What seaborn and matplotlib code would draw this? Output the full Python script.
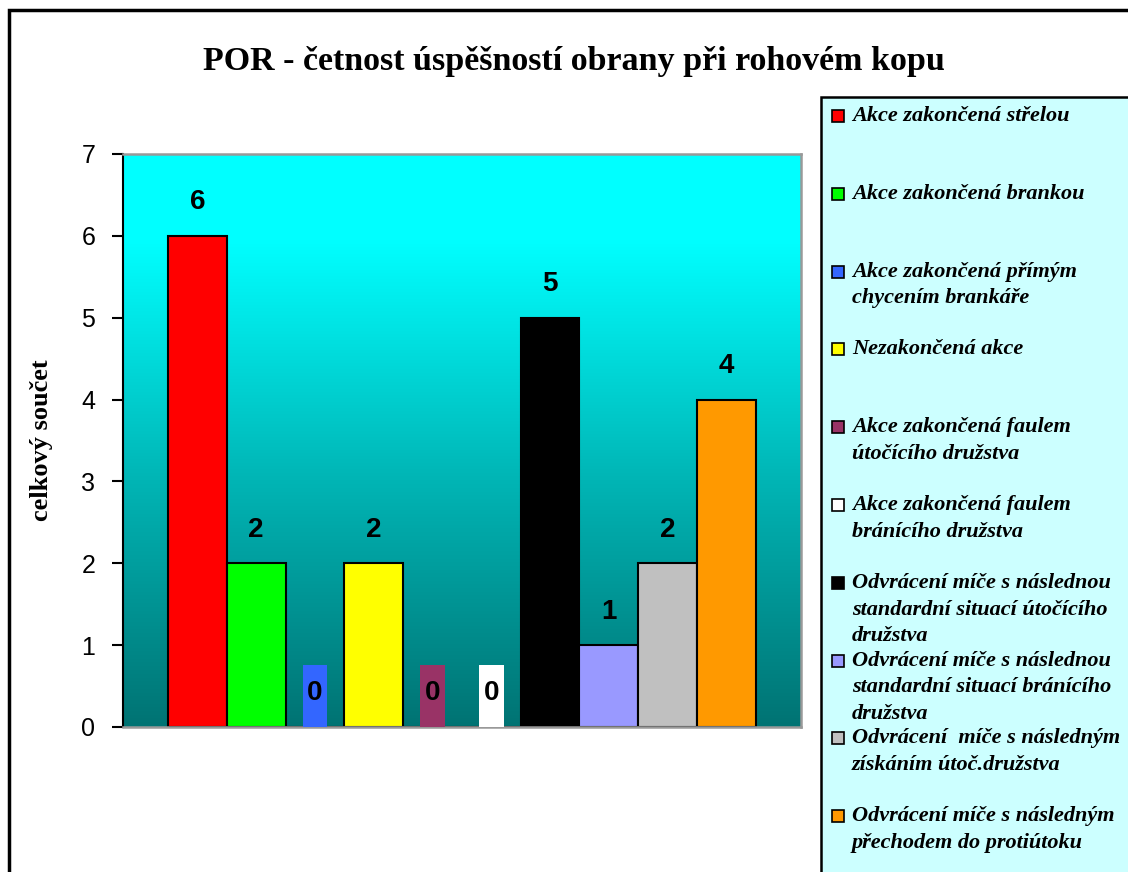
import numpy as np
import pandas as pd
import matplotlib
matplotlib.use("Agg")
import matplotlib.pyplot as plt
from matplotlib.patches import Rectangle
import seaborn as sns

# data
series = [
    "Akce zakončená střelou",
    "Akce zakončená brankou",
    "Akce zakončená přímým\nchycením brankáře",
    "Nezakončená akce",
    "Akce zakončená faulem\nútočícího družstva",
    "Akce zakončená faulem\nbránícího družstva",
    "Odvrácení míče s následnou\nstandardní situací útočícího\ndružstva",
    "Odvrácení míče s následnou\nstandardní situací bránícího\ndružstva",
    "Odvrácení  míče s následným\nzískáním útoč.družstva",
    "Odvrácení míče s následným\npřechodem do protiútoku",
]
counts = [6, 2, 0, 2, 0, 0, 5, 1, 2, 4]
colors = ["#FF0000", "#00FF00", "#3366FF", "#FFFF00", "#993366",
          "#FFFFFF", "#000000", "#9999FF", "#C0C0C0", "#FF9900"]
yticks = [0, 1, 2, 3, 4, 5, 6, 7]

df = pd.DataFrame({"grp": [""] * len(series), "serie": series, "count": counts})

sns.set_style("white")
plt.rcParams["font.family"] = ["Liberation Sans", "DejaVu Sans"]
plt.rcParams["text.color"] = "black"
plt.rcParams["ytick.color"] = "black"
plt.rcParams["axes.labelcolor"] = "black"

fig = plt.figure(figsize=(11.28, 8.72), dpi=100)
ax = fig.add_axes([0.109, 0.1663, 0.601, 0.6571])

# gradient background of plot area
grad = np.linspace(0, 1, 256).reshape(-1, 1)
cmap = matplotlib.colors.LinearSegmentedColormap.from_list(
    "bg", [(0, "#007373"), (0.45, "#00B8B8"), (0.85, "#00FFFF"), (1, "#00FFFF")])
ax.imshow(grad, extent=[0, 1, 0, 1], transform=ax.transAxes, origin="lower",
          aspect="auto", cmap=cmap, zorder=0)

sns.barplot(data=df, x="grp", y="count", hue="serie", palette=colors,
            saturation=1, width=0.867, gap=0, edgecolor="black", linewidth=1.5,
            legend=False, ax=ax, zorder=2)

ax.set_xlim(-0.5, 0.5)
ax.set_ylim(0, 7)
ax.set_yticks(yticks)
ax.set_yticklabels([str(t) for t in yticks], fontsize=18)
ax.set_xticks([])
ax.set_xlabel("")
ax.set_ylabel("celkový součet", family="Liberation Serif", fontweight="bold",
              fontsize=19, labelpad=20)
ax.tick_params(axis="y", direction="out", length=8, width=1.5, color="black",
               left=True, pad=12)
for side in ["top", "right", "bottom"]:
    ax.spines[side].set_color("#999999")
    ax.spines[side].set_linewidth(1.8)
ax.spines["left"].set_color("black")
ax.spines["left"].set_linewidth(1.5)

# data labels
for cont, col in zip(ax.containers, colors):
    bar = cont[0]
    cx = bar.get_x() + bar.get_width() / 2
    h = bar.get_height()
    if h > 0:
        ax.text(cx, h + 0.41, f"{h:.0f}", ha="center", va="center",
                fontsize=20, fontweight="bold", zorder=4)
    else:
        bw = bar.get_width() * 0.42
        ax.add_patch(Rectangle((cx - bw / 2, 0), bw, 0.76, facecolor=col,
                               edgecolor="none", zorder=3))
        ax.text(cx, 0.41, "0", ha="center", va="center", fontsize=20,
                fontweight="bold", zorder=4)

fig.text(0.509, 0.929, "POR - četnost úspěšností obrany při rohovém kopu",
         ha="center", va="center", family="Liberation Serif",
         fontweight="bold", fontsize=24.5)

# outer chart border
fig.patches.append(Rectangle((9 / 1128, -0.1), 1.2, 1 - 10 / 872 + 0.1,
                             transform=fig.transFigure, fill=False,
                             edgecolor="black", linewidth=2.5, zorder=0))

# legend box
fig.patches.append(Rectangle((821 / 1128, -0.1), 0.5, 1 - 97 / 872 + 0.1,
                             transform=fig.transFigure, facecolor="#CCFFFF",
                             edgecolor="black", linewidth=1.8, zorder=1))
y0, step = 116, 77.8
for i, (lab, col) in enumerate(zip(series, colors)):
    yc = 1 - (y0 + i * step) / 872
    fig.patches.append(Rectangle((832 / 1128, yc - 6 / 872), 12 / 1128, 12 / 872,
                                 transform=fig.transFigure, facecolor=col,
                                 edgecolor="black", linewidth=1.2, zorder=2))
    fig.text(852 / 1128, yc + 10 / 872, lab, ha="left", va="top",
             family="Liberation Serif", fontweight="bold", style="italic",
             fontsize=16, linespacing=1.45, zorder=3)

fig.savefig("out.png", dpi=100)
